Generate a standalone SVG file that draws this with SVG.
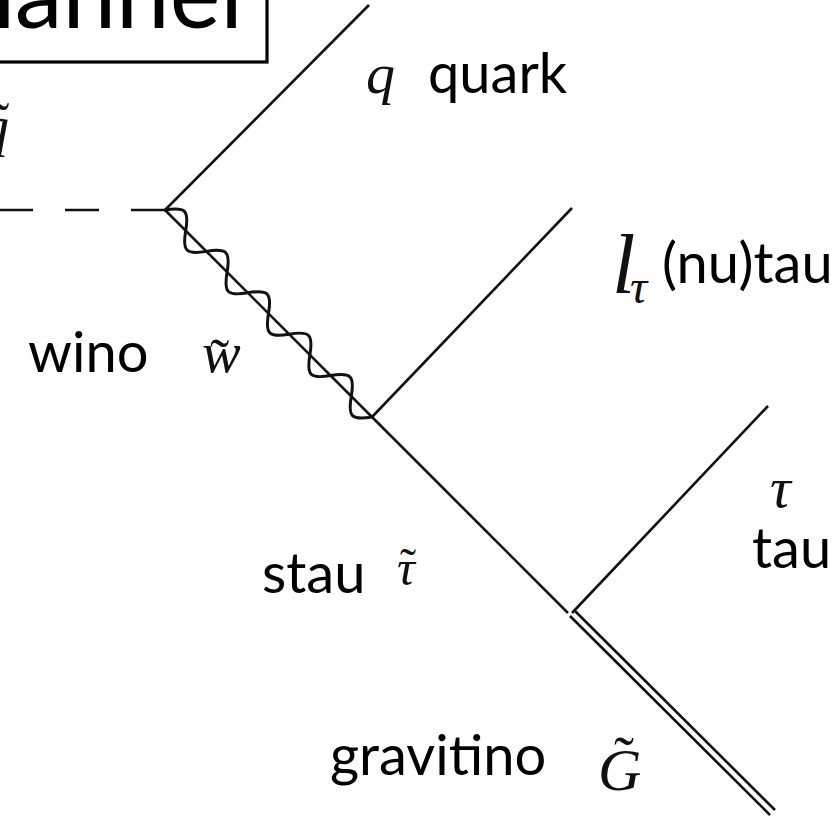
<svg xmlns="http://www.w3.org/2000/svg" width="840" height="821" viewBox="0 0 840 821">
<style>
.ln{stroke:#111;stroke-width:2.6;fill:none;stroke-linecap:butt}
.wv{stroke:#111;stroke-width:3;fill:none}
.lbl{font-family:Lato,"Liberation Sans",sans-serif;font-size:56px;fill:#000}
.m{font-family:"Liberation Serif",serif;font-style:italic;font-size:58px;fill:#111}
.t{font-family:"Liberation Serif",serif;font-size:58px;fill:#111}
</style>
<rect width="840" height="821" fill="#fff"/>
<g id="title">
<rect x="-400" y="-100" width="667" height="162" fill="none" stroke="#000" stroke-width="3.2"/>
<text x="243" y="28" text-anchor="end" style="font-family:Lato,'Liberation Sans',sans-serif;font-size:96px">channel</text>
</g>
<g id="connectors">
<line class="ln" x1="165" y1="210" x2="0" y2="210" stroke-dasharray="34 32"/>
<line class="ln" x1="165" y1="210" x2="369" y2="5"/>
<line class="ln" x1="165" y1="210" x2="372" y2="417"/>
<path class="wv" transform="translate(165,210) rotate(45)" d="M0,0 c12,-17 17.27,-17 29.27,0 s17.27,17 29.27,0 s17.27,-17 29.27,0 s17.27,17 29.27,0 s17.27,-17 29.27,0 s17.27,17 29.27,0 s17.27,-17 29.27,0 s17.27,17 29.27,0 s17.27,-17 29.27,0 s17.27,17 29.27,0"/>
<line class="ln" x1="372" y1="417" x2="572" y2="208"/>
<line class="ln" x1="372" y1="417" x2="568" y2="613"/>
<line class="ln" x1="572" y1="613" x2="768" y2="406"/>
<line class="ln" x1="575" y1="611" x2="775" y2="810"/>
<line class="ln" x1="570" y1="616" x2="770" y2="815"/>
</g>
<g id="squark">
<text class="m" x="-20" y="145">q</text>
<text class="t" x="-10" y="141">˜</text>
</g>
<g id="quark">
<text class="m" x="366" y="93">q</text>
<text class="lbl" x="428" y="93">quark</text>
</g>
<g id="nutau">
<text class="m" x="612" y="293" style="font-size:84px">l</text>
<text class="m" x="630" y="303" style="font-size:48px">τ</text>
<text class="lbl" x="662" y="283">(nu)tau</text>
</g>
<g id="wino">
<text class="lbl" x="28" y="372">wino</text>
<text class="m" x="202" y="372">w</text>
<text class="t" x="210" y="378">˜</text>
</g>
<g id="stau">
<text class="lbl" x="262" y="593">stau</text>
<text class="m" x="397" y="585" style="font-size:50px">τ</text>
<text class="t" x="400" y="582" style="font-size:48px">˜</text>
</g>
<g id="tau">
<text class="m" x="770" y="507">τ</text>
<text class="lbl" x="752" y="568">tau</text>
</g>
<g id="gravitino">
<text class="lbl" x="330" y="775">gravitino</text>
<text class="m" x="598" y="790" style="font-size:60px">G</text>
<text class="t" x="614" y="777" style="font-size:60px">˜</text>
</g>
</svg>
